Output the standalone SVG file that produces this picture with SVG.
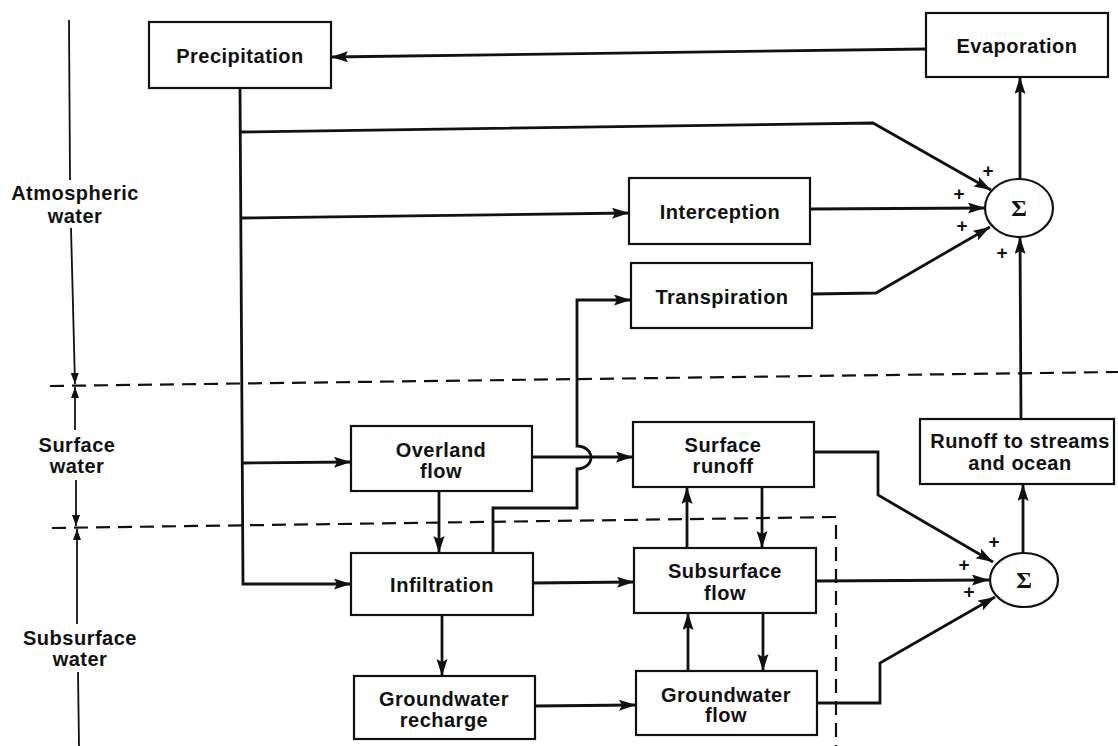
<svg xmlns="http://www.w3.org/2000/svg" width="1118" height="746" viewBox="0 0 1118 746">
<style>
.box{fill:#fff;stroke:#111;stroke-width:2.2}
.t{font-family:"Liberation Sans",Arial,sans-serif;font-weight:bold;font-size:20px;fill:#111;text-anchor:middle;letter-spacing:0.5px}
.c{fill:none;stroke:#111;stroke-width:2.8}
.ax{fill:none;stroke:#111;stroke-width:1.8}
.d{fill:none;stroke:#111;stroke-width:2.2;stroke-dasharray:14 8}
.p{font-family:"Liberation Sans",Arial,sans-serif;font-weight:bold;font-size:19px;fill:#111;text-anchor:middle}
.s{font-family:"Liberation Serif","Times New Roman",serif;font-weight:bold;font-size:24px;fill:#111;text-anchor:middle}
.sum{fill:#fff;stroke:#111;stroke-width:2.2}
</style>
<defs>
<marker id="ah" markerUnits="userSpaceOnUse" markerWidth="18" markerHeight="12" refX="17" refY="5.5" orient="auto">
<path d="M0,0 L17,5.5 L0,11 L3,5.5 z" fill="#111"/>
</marker>
<marker id="sa" markerUnits="userSpaceOnUse" markerWidth="12" markerHeight="9" refX="11" refY="4" orient="auto">
<path d="M0,0 L11,4 L0,8 z" fill="#111"/>
</marker>
</defs>
<rect width="1118" height="746" fill="#fff"/>

<g id="zones">
<path class="d" d="M50,386 L1118,372"/>
<path class="d" d="M52,528 L836,517 V746"/>
<path class="ax" d="M69,20 L70,180"/>
<path class="ax" d="M71,228 L75,384" marker-end="url(#sa)"/>
<path class="ax" d="M75,430 L75,387" marker-end="url(#sa)"/>
<path class="ax" d="M76,480 L76,526" marker-end="url(#sa)"/>
<path class="ax" d="M77,624 L77,529" marker-end="url(#sa)"/>
<path class="ax" d="M78,672 L79,746"/>
<text class="t" x="75" y="200">Atmospheric</text>
<text class="t" x="75" y="223">water</text>
<text class="t" x="77" y="452">Surface</text>
<text class="t" x="77" y="473">water</text>
<text class="t" x="80" y="645">Subsurface</text>
<text class="t" x="80" y="666">water</text>
</g>

<g id="connectors">
<path class="c" d="M926,49 L331,57" marker-end="url(#ah)"/>
<path class="c" d="M240,88 L243,584 L351,584" marker-end="url(#ah)"/>
<path class="c" d="M240,132 L873,123 L991,190" marker-end="url(#ah)"/>
<path class="c" d="M241,218 L629,213" marker-end="url(#ah)"/>
<path class="c" d="M242,463 L351,462" marker-end="url(#ah)"/>
<path class="c" d="M810,209 L985,208" marker-end="url(#ah)"/>
<path class="c" d="M812,294 L876,293 L990,227" marker-end="url(#ah)"/>
<path class="c" d="M1020,179 L1020,77" marker-end="url(#ah)"/>
<path class="c" d="M1021,419 L1020,237" marker-end="url(#ah)"/>
<path class="c" d="M1023,553 L1023,484" marker-end="url(#ah)"/>
<path class="c" d="M532,457 L633,457" marker-end="url(#ah)"/>
<path class="c" d="M493,553 V508 H577 V469 A14 11.5 0 0 0 577,446 V300 H631" marker-end="url(#ah)"/>
<path class="c" d="M439,491 L439,553" marker-end="url(#ah)"/>
<path class="c" d="M442,615 L442,676" marker-end="url(#ah)"/>
<path class="c" d="M533,583 L634,582" marker-end="url(#ah)"/>
<path class="c" d="M535,706 L636,705" marker-end="url(#ah)"/>
<path class="c" d="M762,487 L762,548" marker-end="url(#ah)"/>
<path class="c" d="M687,548 L687,487" marker-end="url(#ah)"/>
<path class="c" d="M763,613 L763,671" marker-end="url(#ah)"/>
<path class="c" d="M688,671 L688,613" marker-end="url(#ah)"/>
<path class="c" d="M814,452 H878 V495 L993,562" marker-end="url(#ah)"/>
<path class="c" d="M816,581 L989,580" marker-end="url(#ah)"/>
<path class="c" d="M817,703 H880 V663 L995,597" marker-end="url(#ah)"/>
</g>

<g id="precipitation"><rect class="box" x="149" y="22" width="182" height="66"/><text class="t" x="240" y="63">Precipitation</text></g>
<g id="evaporation"><rect class="box" x="926" y="13" width="182" height="64"/><text class="t" x="1017" y="53">Evaporation</text></g>
<g id="interception"><rect class="box" x="629" y="178" width="181" height="66"/><text class="t" x="720" y="219">Interception</text></g>
<g id="transpiration"><rect class="box" x="631" y="263" width="181" height="65"/><text class="t" x="722" y="304">Transpiration</text></g>
<g id="sum1"><ellipse class="sum" cx="1019" cy="208" rx="34" ry="29"/><text class="s" x="1019" y="216">Σ</text>
<text class="p" x="988" y="177">+</text><text class="p" x="959" y="200">+</text><text class="p" x="962" y="232">+</text><text class="p" x="1002" y="259">+</text></g>
<g id="overland"><rect class="box" x="351" y="426" width="181" height="65"/><text class="t" x="441" y="457">Overland</text><text class="t" x="441" y="478">flow</text></g>
<g id="infiltration"><rect class="box" x="351" y="553" width="182" height="62"/><text class="t" x="442" y="592">Infiltration</text></g>
<g id="gwrecharge"><rect class="box" x="354" y="676" width="181" height="63"/><text class="t" x="444" y="706">Groundwater</text><text class="t" x="444" y="727">recharge</text></g>
<g id="surfacerunoff"><rect class="box" x="633" y="422" width="181" height="65"/><text class="t" x="723" y="452">Surface</text><text class="t" x="723" y="473">runoff</text></g>
<g id="subsurface"><rect class="box" x="634" y="548" width="182" height="65"/><text class="t" x="725" y="578">Subsurface</text><text class="t" x="725" y="600">flow</text></g>
<g id="gwflow"><rect class="box" x="636" y="671" width="181" height="64"/><text class="t" x="726" y="702">Groundwater</text><text class="t" x="726" y="722">flow</text></g>
<g id="runoff"><rect class="box" x="920" y="419" width="194" height="65"/><text class="t" x="1020" y="448">Runoff to streams</text><text class="t" x="1020" y="470">and ocean</text></g>
<g id="sum2"><ellipse class="sum" cx="1024" cy="580" rx="34" ry="27"/><text class="s" x="1024" y="588">Σ</text>
<text class="p" x="994" y="548">+</text><text class="p" x="964" y="571">+</text><text class="p" x="969" y="598">+</text></g>
</svg>
